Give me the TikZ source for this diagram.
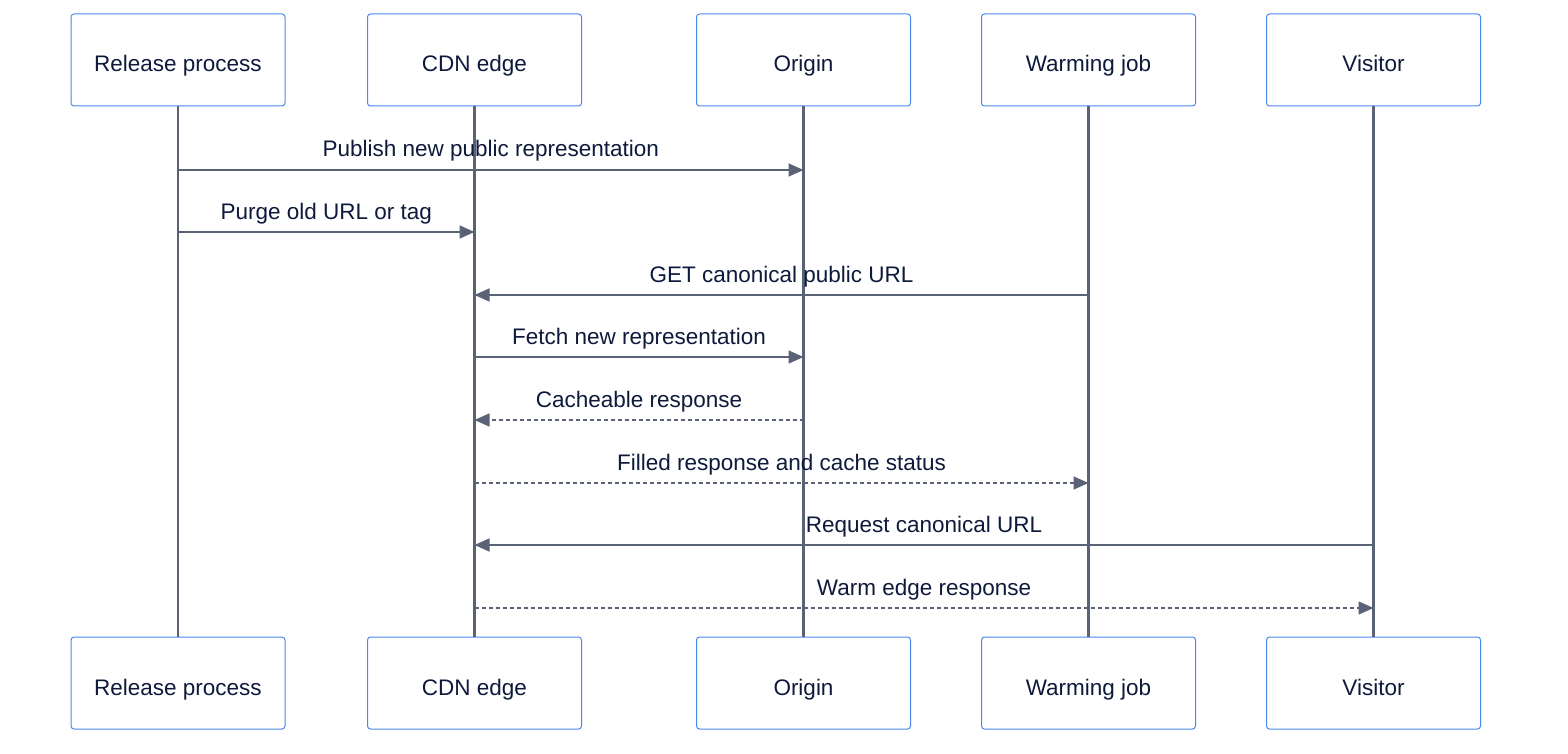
\documentclass[tikz,border=0pt]{standalone}
\usepackage{fontspec}
\setmainfont{Liberation Sans}
\usetikzlibrary{arrows.meta}
\definecolor{boxborder}{RGB}{74,136,240}
\definecolor{linegray}{RGB}{90,99,118}
\definecolor{textnavy}{RGB}{14,26,60}
\tikzset{
  actor/.style={draw=boxborder, line width=1pt, fill=white, rounded corners=3pt,
    minimum width=214pt, minimum height=92pt, inner sep=0pt,
    text height=24pt, text depth=0pt,
    text=textnavy, font=\fontsize{22.5}{27}\selectfont},
  lifeline/.style={draw=linegray, line width=2.4pt},
  msg/.style={draw=linegray, line width=1.7pt, -{Triangle[length=15pt,width=13pt]}},
  reply/.style={msg, dash pattern=on 4pt off 3pt},
  lbl/.style={midway, anchor=base, yshift=13pt, text=textnavy, font=\fontsize{22.5}{27}\selectfont, inner sep=0pt}
}
\begin{document}
\begin{tikzpicture}[x=1pt, y=-1pt]
\useasboundingbox (0,0) rectangle (1568,754);
% top actors
\node[actor] (rt) at (178,60) {Release process};
\node[actor] (ct) at (474.5,60) {CDN edge};
\node[actor] (ot) at (803.5,60) {Origin};
\node[actor] (wt) at (1088.5,60) {Warming job};
\node[actor] (vt) at (1373.5,60) {Visitor};
% bottom actors
\node[actor] (rb) at (178,683) {Release process};
\node[actor] (cb) at (474.5,683) {CDN edge};
\node[actor] (ob) at (803.5,683) {Origin};
\node[actor] (wb) at (1088.5,683) {Warming job};
\node[actor] (vb) at (1373.5,683) {Visitor};
% lifelines
\foreach \a in {r,c,o,w,v}{
  \draw[lifeline] (\a t.south) -- (\a b.north);
}
% message anchor points on lifelines
\foreach \a in {r,c,o,w,v}{
  \foreach \i/\y in {1/170,2/232,3/295,4/357,5/420,6/483,7/545,8/608}{
    \coordinate (\a\i) at (\a t.south |- 0,\y);
  }
}
% messages
\draw[msg] (r1) -- (o1) node[lbl] {Publish new public representation};
\draw[msg] (r2) -- (c2) node[lbl] {Purge old URL or tag};
\draw[msg] (w3) -- (c3) node[lbl] {GET canonical public URL};
\draw[msg] (c4) -- (o4) node[lbl] {Fetch new representation};
\draw[reply] (o5) -- (c5) node[lbl] {Cacheable response};
\draw[reply] (c6) -- (w6) node[lbl] {Filled response and cache status};
\draw[msg] (v7) -- (c7) node[lbl] {Request canonical URL};
\draw[reply] (c8) -- (v8) node[lbl] {Warm edge response};
\end{tikzpicture}
\end{document}
